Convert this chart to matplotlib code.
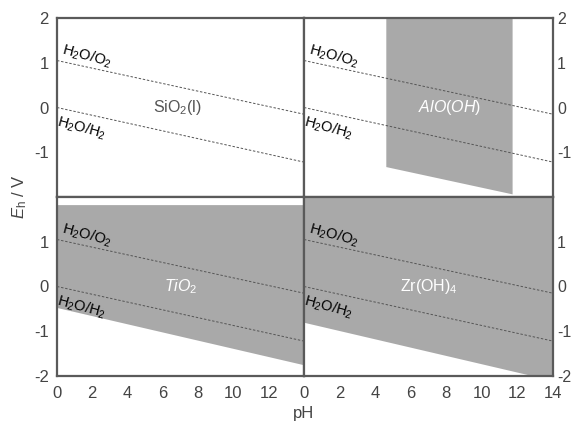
import numpy as np
import matplotlib
matplotlib.use("Agg")
import matplotlib.pyplot as plt

plt.rcParams['font.family'] = ['Liberation Sans', 'DejaVu Sans']
plt.rcParams['mathtext.fontset'] = 'custom'
plt.rcParams['mathtext.rm'] = 'Liberation Sans'
plt.rcParams['mathtext.it'] = 'Liberation Sans:italic'
plt.rcParams['axes.unicode_minus'] = False

# water stability lines (pH 0 -> 14)
ph_ends = [0, 14]
o2_line = [1.05, -0.15]
h2_line = [0.0, -1.22]

# stability regions
alooh_ph = [4.6, 11.7]
alooh_bottom = [-1.32, -1.93]
alooh_top = 2.0

tio2_ph = [0, 14]
tio2_bottom = [-0.47, -1.75]
tio2_top = 1.83

zr_ph = [0, 14]
zr_bottom = [-0.80, -2.10]
zr_top = 2.0

panel_names = ["SiO$_2$(l)", "$AlO(OH)$", "$TiO_2$", "Zr(OH)$_4$"]
name_pos = [(6.8, 0.0), (8.2, 0.0), (7.0, 0.0), (7.0, 0.0)]
name_colors = ["#555555", "white", "white", "white"]

xticks_left = [0, 2, 4, 6, 8, 10, 12]
xticks_right = [0, 2, 4, 6, 8, 10, 12, 14]
yticks_top = [2, 1, 0, -1]
yticks_bottom = [1, 0, -1, -2]

shade = "#a9a9a9"
frame = "#5a5a5a"
txt = "#444444"

fig = plt.figure(figsize=(5.73, 4.28), dpi=100)
x0, xm, x1 = 57 / 573, 304 / 573, 553 / 573
y_top, y_mid, y_bot = 1 - 18 / 428, 1 - 197 / 428, 1 - 376 / 428
w1, w2 = xm - x0, x1 - xm
h1, h2 = y_top - y_mid, y_mid - y_bot

axs = [fig.add_axes([x0, y_mid, w1, h1]),
       fig.add_axes([xm, y_mid, w2, h1]),
       fig.add_axes([x0, y_bot, w1, h2]),
       fig.add_axes([xm, y_bot, w2, h2])]

# shaded regions
axs[1].fill_between(alooh_ph, alooh_bottom, alooh_top, color=shade, lw=0)
axs[2].fill_between(tio2_ph, tio2_bottom, tio2_top, color=shade, lw=0)
axs[3].fill_between(zr_ph, zr_bottom, zr_top, color=shade, lw=0)

for i, ax in enumerate(axs):
    ax.plot(ph_ends, o2_line, ls=(0, (2.5, 1.8)), color="#555555", lw=0.7)
    ax.plot(ph_ends, h2_line, ls=(0, (2.5, 1.8)), color="#555555", lw=0.7)
    ax.text(0.15, 1.1, "H$_2$O/O$_2$", rotation=-15, rotation_mode='anchor',
            ha='left', va='bottom', fontsize=10.5, color='black')
    ax.text(0.15, -0.12, "H$_2$O/H$_2$", rotation=-15, rotation_mode='anchor',
            ha='left', va='top', fontsize=10.5, color='black')
    ax.text(name_pos[i][0], name_pos[i][1], panel_names[i], ha='center', va='center',
            fontsize=11.5, color=name_colors[i])
    ax.set_xlim(0, 14)
    ax.set_ylim(-2, 2)
    for s in ax.spines.values():
        s.set_color(frame)
        s.set_linewidth(1.6)
    ax.tick_params(length=0, labelsize=12, colors=txt, pad=6)
    ax.set_xticks([])

    if i in (0, 1):
        ax.set_yticks(yticks_top)
    else:
        ax.set_yticks(yticks_bottom)
    if i in (1, 3):
        ax.yaxis.tick_right()
        ax.tick_params(axis='y', pad=3, labelsize=11.5)

axs[2].set_xticks(xticks_left)
axs[3].set_xticks(xticks_right)
axs[2].tick_params(axis='x', length=0, labelsize=12, colors=txt, pad=7)
axs[3].tick_params(axis='x', length=0, labelsize=12, colors=txt, pad=7)

fig.text(0.035, y_mid, "$E_\\mathrm{h}$ / V", rotation=90, ha='center', va='center',
         fontsize=12, color=txt)
fig.text(xm, 0.035, "pH", ha='center', va='center', fontsize=12, color=txt)

fig.savefig("out.png", dpi=100)
